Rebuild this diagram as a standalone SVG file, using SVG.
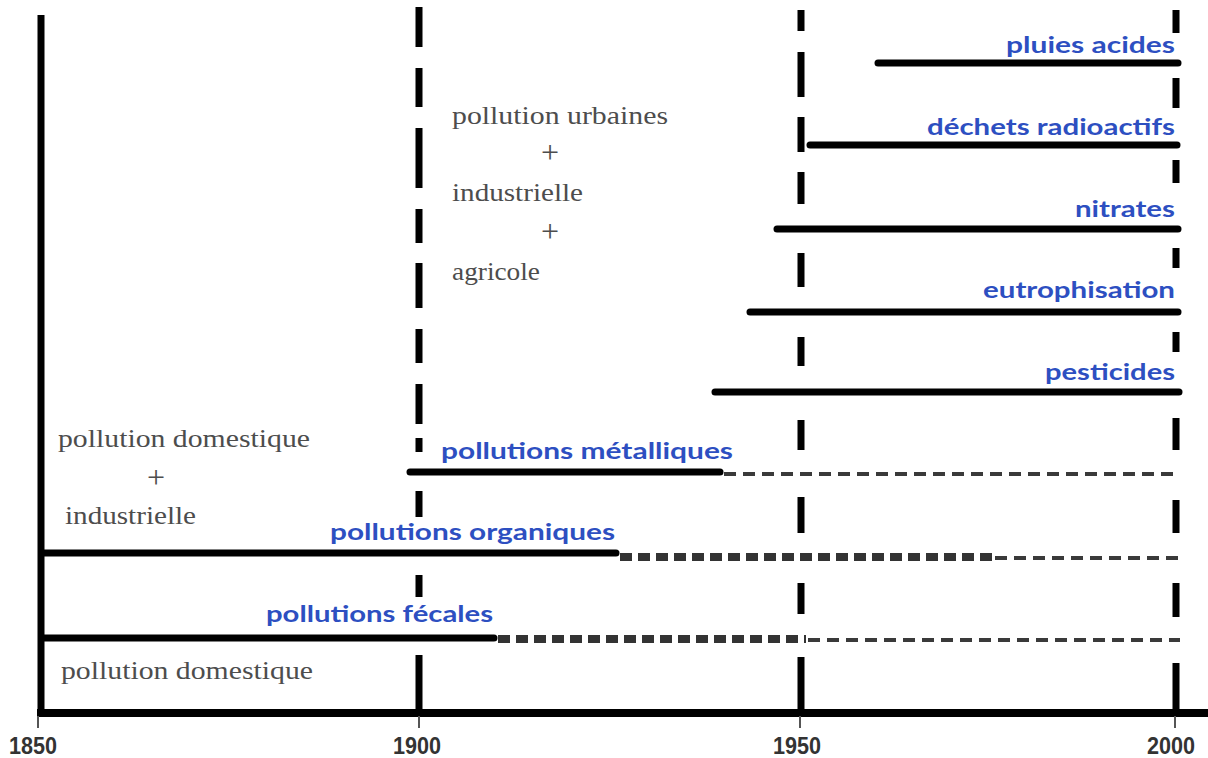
<svg xmlns="http://www.w3.org/2000/svg" width="1208" height="758" viewBox="0 0 1208 758">
  <style>
    .axis { stroke: #000; fill: none; }
    .era { stroke: #000; stroke-width: 7; fill: none; }
    .bar { stroke: #000; stroke-width: 7; stroke-linecap: round; fill: none; }
    .fade-thick { stroke: #333; stroke-width: 8; stroke-dasharray: 12 6; fill: none; }
    .fade-thin { stroke: #3a3a3a; stroke-width: 4; stroke-dasharray: 12 7; fill: none; }
    .tick { stroke: #555; stroke-width: 2; }
    .label { font-family: Lato, "Open Sans", "Liberation Sans", sans-serif; font-weight: bold; font-size: 23px; fill: #2d4fc1; }
    .note { font-family: "Liberation Serif", "DejaVu Serif", serif; font-size: 25px; fill: #4d4d4d; }
    .plus { font-family: "Liberation Serif", "DejaVu Serif", serif; font-size: 32px; fill: #4d4d4d; text-anchor: middle; }
    .year { font-family: "Liberation Sans", Arial, sans-serif; font-weight: bold; font-size: 24px; fill: #333; text-anchor: middle; }
  </style>

  <rect width="1208" height="758" fill="#fff"/>

  <!-- time axis and vertical origin -->
  <g id="axes">
    <line class="axis" x1="41" y1="15" x2="41" y2="716" stroke-width="7"/>
    <line class="axis" x1="37" y1="713" x2="1208" y2="713" stroke-width="8"/>
    <line class="tick" x1="38" y1="716" x2="38" y2="728"/>
    <line class="tick" x1="419" y1="716" x2="419" y2="728"/>
    <line class="tick" x1="800" y1="716" x2="800" y2="728"/>
    <line class="tick" x1="1175" y1="716" x2="1175" y2="728"/>
    <text class="year" x="33" y="754" textLength="48" lengthAdjust="spacingAndGlyphs">1850</text>
    <text class="year" x="417" y="754" textLength="48" lengthAdjust="spacingAndGlyphs">1900</text>
    <text class="year" x="797" y="754" textLength="48" lengthAdjust="spacingAndGlyphs">1950</text>
    <text class="year" x="1171" y="754" textLength="48" lengthAdjust="spacingAndGlyphs">2000</text>
  </g>

  <!-- dashed era separators -->
  <g id="era-lines">
    <path class="era" stroke-width="8" d="M419 7V47M419 68V107M419 128V188M419 209V243M419 263V308M419 329V363M419 384V424M419 438V452M419 491V517M419 575V597M419 655V713"/>
    <path class="era" d="M801 10V31M801 52V97M801 117V152M801 172V204M801 253V287M801 337V366M801 420V450M801 497V533M801 583V614M801 657V713"/>
    <path class="era" stroke-width="6" d="M1176 10V33M1176 78V108M1176 160V183M1176 248V268M1176 332V352M1176 418V450M1176 500V533M1176 583V617M1176 663V713"/>
  </g>

  <!-- pollution periods -->
  <g id="connectors">
    <line class="bar" x1="878" y1="63" x2="1178" y2="63"/>
    <line class="bar" x1="810" y1="145" x2="1177" y2="145"/>
    <line class="bar" x1="777" y1="229" x2="1178" y2="229"/>
    <line class="bar" x1="750" y1="312" x2="1178" y2="312"/>
    <line class="bar" x1="715" y1="392" x2="1179" y2="392"/>

    <line class="bar" x1="410" y1="472" x2="720" y2="472"/>
    <line class="fade-thin" x1="724" y1="474" x2="1180" y2="474"/>

    <line class="bar" x1="42" y1="553" x2="616" y2="553" stroke-width="8"/>
    <line class="fade-thick" x1="620" y1="557" x2="993" y2="557"/>
    <line class="fade-thin" x1="995" y1="558" x2="1180" y2="558"/>

    <line class="bar" x1="42" y1="638" x2="494" y2="638" stroke-width="8"/>
    <line class="fade-thick" x1="498" y1="639" x2="806" y2="639"/>
    <line class="fade-thin" x1="808" y1="640" x2="1180" y2="640"/>
  </g>

  <g id="pluies-acides"><text class="label" x="1175" y="53" text-anchor="end" textLength="169" lengthAdjust="spacingAndGlyphs">pluies acides</text></g>
  <g id="dechets-radioactifs"><text class="label" x="1175" y="135" text-anchor="end" textLength="248" lengthAdjust="spacingAndGlyphs">déchets radioactifs</text></g>
  <g id="nitrates"><text class="label" x="1175" y="217" text-anchor="end" textLength="100" lengthAdjust="spacingAndGlyphs">nitrates</text></g>
  <g id="eutrophisation"><text class="label" x="1175" y="298" text-anchor="end" textLength="192" lengthAdjust="spacingAndGlyphs">eutrophisation</text></g>
  <g id="pesticides"><text class="label" x="1175" y="380" text-anchor="end" textLength="130" lengthAdjust="spacingAndGlyphs">pesticides</text></g>
  <g id="pollutions-metalliques"><text class="label" x="441" y="459" textLength="292" lengthAdjust="spacingAndGlyphs">pollutions métalliques</text></g>
  <g id="pollutions-organiques"><text class="label" x="330" y="540" textLength="285" lengthAdjust="spacingAndGlyphs">pollutions organiques</text></g>
  <g id="pollutions-fecales"><text class="label" x="266" y="622" textLength="227" lengthAdjust="spacingAndGlyphs">pollutions fécales</text></g>

  <!-- period annotations -->
  <g id="periode-1900">
    <text class="note" x="452" y="124" textLength="216" lengthAdjust="spacingAndGlyphs">pollution urbaines</text>
    <text class="plus" x="550" y="163">+</text>
    <text class="note" x="452" y="201" textLength="131" lengthAdjust="spacingAndGlyphs">industrielle</text>
    <text class="plus" x="550" y="242">+</text>
    <text class="note" x="452" y="280" textLength="88" lengthAdjust="spacingAndGlyphs">agricole</text>
  </g>
  <g id="periode-1850">
    <text class="note" x="58" y="447" textLength="252" lengthAdjust="spacingAndGlyphs">pollution domestique</text>
    <text class="plus" x="156" y="488">+</text>
    <text class="note" x="65" y="524" textLength="131" lengthAdjust="spacingAndGlyphs">industrielle</text>
  </g>
  <g id="periode-origine">
    <text class="note" x="61" y="679" textLength="252" lengthAdjust="spacingAndGlyphs">pollution domestique</text>
  </g>
</svg>
